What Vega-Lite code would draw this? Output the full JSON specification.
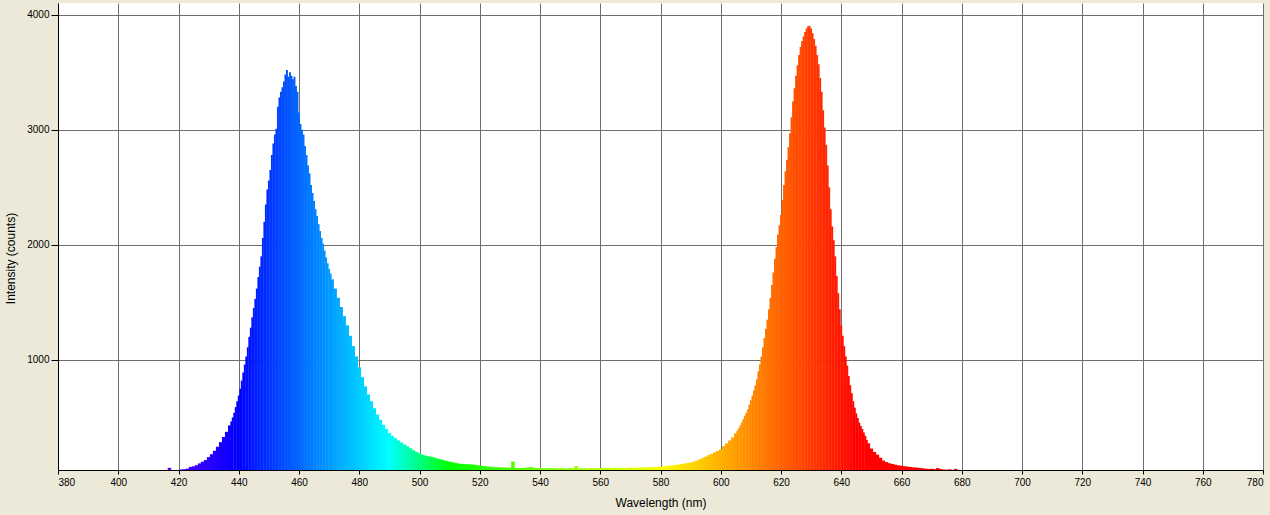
{
  "$schema": "https://vega.github.io/schema/vega-lite/v6.json",
  "autosize": {"type": "none"},
  "padding": {"left": 58, "top": 3, "right": 7, "bottom": 45},
  "width": 1205,
  "height": 467,
  "background": "#ECE9D8",
  "view": {"fill": "white", "stroke": null},
  "config": {
    "font": "Liberation Sans",
    "axis": {
      "labelColor": "black",
      "titleColor": "black",
      "titleFont": "Liberation Sans",
      "labelFont": "Liberation Sans",
      "titleFontWeight": "normal",
      "labelFontSize": 10,
      "titleFontSize": 12,
      "domainColor": "black",
      "tickColor": "black",
      "gridColor": "#6e6e6e",
      "gridOpacity": 1,
      "gridWidth": 1
    }
  },
  "datasets": {
    "coarse": [
      {"w":417,"i":62},{"w":418,"i":40},{"w":419,"i":38},{"w":420,"i":40},{"w":421,"i":48},{"w":422,"i":50},
      {"w":423,"i":55},{"w":424,"i":70},{"w":425,"i":75},{"w":426,"i":85},{"w":427,"i":100},{"w":428,"i":115},
      {"w":429,"i":130},{"w":430,"i":155},{"w":431,"i":180},{"w":432,"i":210},{"w":433,"i":245},{"w":434,"i":285},
      {"w":435,"i":330},{"w":436,"i":375},{"w":437,"i":430},
      {"w":471,"i":1700},{"w":472,"i":1620},{"w":473,"i":1540},{"w":474,"i":1460},{"w":475,"i":1380},{"w":476,"i":1300},
      {"w":477,"i":1210},{"w":478,"i":1120},{"w":479,"i":1030},{"w":480,"i":935},{"w":481,"i":850},{"w":482,"i":770},
      {"w":483,"i":700},{"w":484,"i":640},{"w":485,"i":580},{"w":486,"i":525},{"w":487,"i":480},{"w":488,"i":435},
      {"w":489,"i":400},{"w":490,"i":365},{"w":491,"i":340},{"w":492,"i":320},{"w":493,"i":300},{"w":494,"i":282},
      {"w":495,"i":265},{"w":496,"i":250},{"w":497,"i":232},{"w":498,"i":215},{"w":499,"i":200},{"w":500,"i":188},
      {"w":501,"i":176},{"w":502,"i":168},{"w":503,"i":162},{"w":504,"i":158},{"w":505,"i":150},{"w":506,"i":142},
      {"w":507,"i":135},{"w":508,"i":128},{"w":509,"i":122},{"w":510,"i":116},{"w":511,"i":110},{"w":512,"i":104},
      {"w":513,"i":99},{"w":514,"i":96},{"w":515,"i":94},{"w":516,"i":93},{"w":517,"i":92},{"w":518,"i":90},
      {"w":519,"i":86},{"w":520,"i":82},{"w":521,"i":78},{"w":522,"i":75},{"w":523,"i":72},{"w":524,"i":70},
      {"w":525,"i":68},{"w":526,"i":67},{"w":527,"i":66},{"w":528,"i":65},{"w":529,"i":64},{"w":530,"i":63},
      {"w":531,"i":116},{"w":532,"i":62},{"w":533,"i":61},{"w":534,"i":60},{"w":535,"i":62},{"w":536,"i":66},
      {"w":537,"i":70},{"w":538,"i":63},{"w":539,"i":60},{"w":540,"i":58},{"w":541,"i":59},{"w":542,"i":60},
      {"w":543,"i":58},{"w":544,"i":61},{"w":545,"i":58},{"w":546,"i":56},{"w":547,"i":59},{"w":548,"i":58},
      {"w":549,"i":57},{"w":550,"i":60},{"w":551,"i":58},{"w":552,"i":78},{"w":553,"i":57},{"w":554,"i":58},
      {"w":555,"i":60},{"w":556,"i":56},{"w":557,"i":59},{"w":558,"i":57},{"w":559,"i":58},{"w":560,"i":60},
      {"w":561,"i":62},{"w":562,"i":59},{"w":563,"i":63},{"w":564,"i":60},{"w":565,"i":62},{"w":566,"i":61},
      {"w":567,"i":63},{"w":568,"i":60},{"w":569,"i":62},{"w":570,"i":64},{"w":571,"i":62},{"w":572,"i":63},
      {"w":573,"i":65},{"w":574,"i":64},{"w":575,"i":66},{"w":576,"i":68},{"w":577,"i":67},{"w":578,"i":69},
      {"w":579,"i":70},{"w":580,"i":72},{"w":581,"i":75},{"w":582,"i":78},{"w":583,"i":81},{"w":584,"i":84},
      {"w":585,"i":87},{"w":586,"i":90},{"w":587,"i":95},{"w":588,"i":99},{"w":589,"i":104},{"w":590,"i":108},
      {"w":591,"i":115},{"w":592,"i":124},{"w":593,"i":135},{"w":594,"i":147},{"w":595,"i":158},{"w":596,"i":172},
      {"w":597,"i":184},{"w":598,"i":196},{"w":599,"i":208},{"w":600,"i":222},{"w":601,"i":250},{"w":602,"i":275},
      {"w":603,"i":300},{"w":604,"i":325},{"w":605,"i":362},
      {"w":649,"i":275},{"w":650,"i":230},
      {"w":651,"i":200},{"w":652,"i":176},{"w":653,"i":150},{"w":654,"i":125},{"w":655,"i":112},{"w":656,"i":102},
      {"w":657,"i":95},{"w":658,"i":89},{"w":659,"i":84},{"w":660,"i":79},{"w":661,"i":76},{"w":662,"i":73},
      {"w":663,"i":69},{"w":664,"i":66},{"w":665,"i":64},{"w":666,"i":61},{"w":667,"i":58},{"w":668,"i":55},
      {"w":669,"i":52},{"w":670,"i":54},{"w":671,"i":50},{"w":672,"i":60},{"w":673,"i":52},{"w":674,"i":47},
      {"w":675,"i":45},{"w":676,"i":49},{"w":677,"i":44},{"w":678,"i":53}
    ],
    "fine": [
      {"w":437.5,"i":465},
      {"w":438,"i":500},{"w":438.5,"i":540},{"w":439,"i":590},{"w":439.5,"i":640},{"w":440,"i":690},{"w":440.5,"i":750},
      {"w":441,"i":820},{"w":441.5,"i":890},{"w":442,"i":960},{"w":442.5,"i":1030},{"w":443,"i":1110},{"w":443.5,"i":1200},
      {"w":444,"i":1280},{"w":444.5,"i":1370},{"w":445,"i":1450},{"w":445.5,"i":1530},{"w":446,"i":1620},{"w":446.5,"i":1720},
      {"w":447,"i":1810},{"w":447.5,"i":1900},{"w":448,"i":2060},{"w":448.5,"i":2200},{"w":449,"i":2350},{"w":449.5,"i":2480},
      {"w":450,"i":2560},{"w":450.5,"i":2650},{"w":451,"i":2780},{"w":451.5,"i":2880},{"w":452,"i":2960},{"w":452.5,"i":3010},
      {"w":453,"i":3200},{"w":453.5,"i":3280},{"w":454,"i":3330},{"w":454.5,"i":3370},{"w":455,"i":3420},{"w":455.5,"i":3480},
      {"w":456,"i":3520},{"w":456.5,"i":3460},{"w":457,"i":3500},{"w":457.5,"i":3470},{"w":458,"i":3440},{"w":458.5,"i":3460},
      {"w":459,"i":3380},{"w":459.5,"i":3330},{"w":460,"i":3150},{"w":460.5,"i":3050},{"w":461,"i":3000},{"w":461.5,"i":2960},
      {"w":462,"i":2860},{"w":462.5,"i":2780},{"w":463,"i":2690},{"w":463.5,"i":2620},{"w":464,"i":2520},{"w":464.5,"i":2450},
      {"w":465,"i":2380},{"w":465.5,"i":2310},{"w":466,"i":2250},{"w":466.5,"i":2180},{"w":467,"i":2120},{"w":467.5,"i":2060},
      {"w":468,"i":2010},{"w":468.5,"i":1950},{"w":469,"i":1890},{"w":469.5,"i":1840},{"w":470,"i":1790},{"w":470.5,"i":1750},
      {"w":605.5,"i":385},
      {"w":606,"i":405},{"w":606.5,"i":430},{"w":607,"i":455},{"w":607.5,"i":485},{"w":608,"i":515},{"w":608.5,"i":540},
      {"w":609,"i":570},{"w":609.5,"i":610},{"w":610,"i":650},{"w":610.5,"i":690},{"w":611,"i":735},{"w":611.5,"i":780},
      {"w":612,"i":830},{"w":612.5,"i":900},{"w":613,"i":960},{"w":613.5,"i":1030},{"w":614,"i":1110},{"w":614.5,"i":1190},
      {"w":615,"i":1270},{"w":615.5,"i":1350},{"w":616,"i":1440},{"w":616.5,"i":1540},{"w":617,"i":1650},{"w":617.5,"i":1760},
      {"w":618,"i":1880},{"w":618.5,"i":1980},{"w":619,"i":2090},{"w":619.5,"i":2170},{"w":620,"i":2260},{"w":620.5,"i":2390},
      {"w":621,"i":2520},{"w":621.5,"i":2640},{"w":622,"i":2740},{"w":622.5,"i":2850},{"w":623,"i":2970},{"w":623.5,"i":3110},
      {"w":624,"i":3246},{"w":624.5,"i":3360},{"w":625,"i":3470},{"w":625.5,"i":3560},{"w":626,"i":3650},{"w":626.5,"i":3720},
      {"w":627,"i":3770},{"w":627.5,"i":3810},{"w":628,"i":3850},{"w":628.5,"i":3880},{"w":629,"i":3900},{"w":629.5,"i":3905},
      {"w":630,"i":3880},{"w":630.5,"i":3840},{"w":631,"i":3790},{"w":631.5,"i":3730},{"w":632,"i":3650},{"w":632.5,"i":3570},
      {"w":633,"i":3450},{"w":633.5,"i":3330},{"w":634,"i":3170},{"w":634.5,"i":3020},{"w":635,"i":2870},{"w":635.5,"i":2690},
      {"w":636,"i":2500},{"w":636.5,"i":2310},{"w":637,"i":2160},{"w":637.5,"i":2040},{"w":638,"i":1900},{"w":638.5,"i":1730},
      {"w":639,"i":1580},{"w":639.5,"i":1440},{"w":640,"i":1300},{"w":640.5,"i":1210},{"w":641,"i":1120},{"w":641.5,"i":1030},
      {"w":642,"i":950},{"w":642.5,"i":860},{"w":643,"i":780},{"w":643.5,"i":710},{"w":644,"i":640},{"w":644.5,"i":585},
      {"w":645,"i":536},{"w":645.5,"i":495},{"w":646,"i":455},{"w":646.5,"i":425},{"w":647,"i":400},{"w":647.5,"i":370},
      {"w":648,"i":340},{"w":648.5,"i":305}
    ]
  },
  "encoding": {
    "x": {
      "field": "w",
      "type": "quantitative",
      "title": "Wavelength (nm)",
      "scale": {"domain": [380, 780], "nice": false, "zero": false, "padding": 0},
      "axis": {
        "values": [380,400,420,440,460,480,500,520,540,560,580,600,620,640,660,680,700,720,740,760,780],
        "format": "d",
        "labelOverlap": false,
        "labelFlush": true,
        "tickSize": 4,
        "labelPadding": 3,
        "titleY": 36,
        "titleBaseline": "alphabetic"
      }
    },
    "y": {
      "field": "i",
      "type": "quantitative",
      "title": "Intensity (counts)",
      "scale": {"domain": [43, 4102], "nice": false, "zero": false},
      "axis": {
        "values": [1000, 2000, 3000, 4000],
        "format": "d",
        "tickSize": 7,
        "labelPadding": 2,
        "titleX": -48,
        "titleY": 255,
        "titleAngle": -90,
        "titleAlign": "center",
        "titleBaseline": "middle"
      }
    },
    "color": {
      "field": "w",
      "type": "quantitative",
      "legend": null,
      "scale": {
        "domain": [380, 440, 490, 510, 580, 645, 780],
        "range": ["#ff00ff", "#0000ff", "#00ffff", "#00ff00", "#ffff00", "#ff0000", "#ff0000"],
        "interpolate": "rgb"
      }
    }
  },
  "layer": [
    {"data": {"name": "coarse"}, "mark": {"type": "bar", "width": 3.5, "clip": true}},
    {"data": {"name": "fine"}, "mark": {"type": "bar", "width": 1.9, "clip": true}}
  ]
}
